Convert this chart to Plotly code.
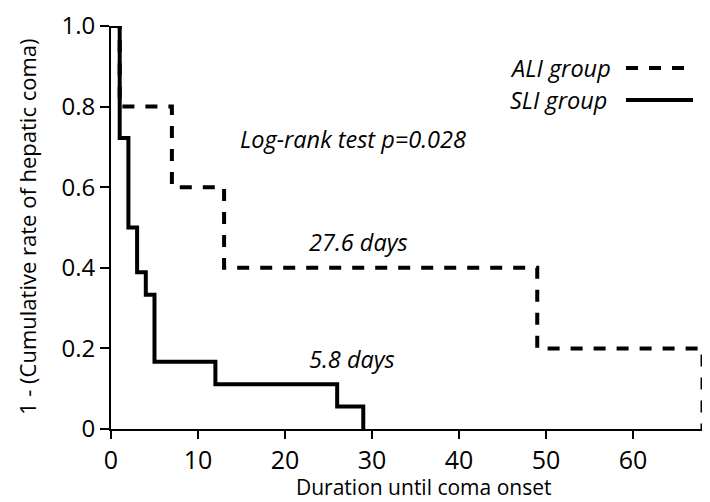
import plotly.graph_objects as go

# Data (Kaplan-Meier style step values)
sli_days = [0, 1, 2, 3, 4, 5, 12, 26, 29]
sli_surv = [1.0, 0.722, 0.5, 0.389, 0.333, 0.167, 0.111, 0.056, 0.0]
ali_days = [0, 1, 7, 13, 49, 68]
ali_surv = [1.0, 0.8, 0.6, 0.4, 0.2, 0.0]

x_ticks = [0, 10, 20, 30, 40, 50, 60]
y_ticks = [0, 0.2, 0.4, 0.6, 0.8, 1.0]
y_tick_labels = ["0", "0.2", "0.4", "0.6", "0.8", "1.0"]

FONT = "Open Sans"
W, H = 710, 502
L, R, T, B = 103, 12, 18, 81

fig = go.Figure()
fig.add_trace(go.Scatter(
    x=ali_days, y=ali_surv, mode="lines", line_shape="hv",
    line=dict(color="black", width=4, dash="12px,11px"),
    name="ALI group", showlegend=False, cliponaxis=False))
fig.add_trace(go.Scatter(
    x=sli_days, y=sli_surv, mode="lines", line_shape="hv",
    line=dict(color="black", width=4),
    name="SLI group", showlegend=False, cliponaxis=False))

def px_x(p):
    return (p - L) / (W - L - R)

def px_y(p):
    return 1 - (p - T) / (H - T - B)

annotations = [
    dict(text="<i>Log-rank test p=0.028</i>", x=px_x(230), y=px_y(131), xanchor="left", yanchor="middle", size=23.5, angle=0),
    dict(text="<i>27.6 days</i>", x=px_x(299), y=px_y(234), xanchor="left", yanchor="middle", size=23.5, angle=0),
    dict(text="<i>5.8 days</i>", x=px_x(299), y=px_y(351), xanchor="left", yanchor="middle", size=23.5, angle=0),
    dict(text="<i>ALI group</i>", x=px_x(500), y=px_y(60), xanchor="left", yanchor="middle", size=23.5, angle=0),
    dict(text="<i>SLI group</i>", x=px_x(500), y=px_y(92), xanchor="left", yanchor="middle", size=23.5, angle=0),
    dict(text="Duration until coma onset", x=px_x(415), y=px_y(479), xanchor="center", yanchor="middle", size=21, angle=0),
    dict(text="1 - (Cumulative rate of hepatic coma)", x=px_x(19), y=px_y(219), xanchor="center", yanchor="middle", size=22, angle=-90),
]
for a in annotations:
    fig.add_annotation(text=a["text"], x=a["x"], y=a["y"], xref="paper", yref="paper",
                       xanchor=a["xanchor"], yanchor=a["yanchor"], showarrow=False, textangle=a["angle"],
                       font=dict(family=FONT, size=a["size"], color="black"))

# legend sample lines
fig.add_shape(type="line", xref="paper", yref="paper", x0=px_x(618), x1=px_x(677), y0=px_y(60), y1=px_y(60),
              line=dict(color="black", width=4, dash="12px,11px"))
fig.add_shape(type="line", xref="paper", yref="paper", x0=px_x(618), x1=px_x(685), y0=px_y(92), y1=px_y(92),
              line=dict(color="black", width=4))

fig.update_layout(
    width=W, height=H,
    margin=dict(l=L, r=R, t=T, b=B, autoexpand=False),
    plot_bgcolor="white", paper_bgcolor="white",
    font=dict(family=FONT, color="black"),
    showlegend=False,
)
fig.update_xaxes(
    range=[0, 68.4], tickvals=x_ticks, ticks="outside", ticklen=8, tickwidth=2, tickcolor="black",
    showline=True, linecolor="black", linewidth=2, showgrid=False, zeroline=False, automargin=False,
    ticklabeloverflow="allow",
    tickfont=dict(family=FONT, size=25, color="black"),
)
fig.update_yaxes(
    range=[0, 1.0], tickvals=y_ticks, ticktext=y_tick_labels, ticks="outside", ticklen=9, tickwidth=2,
    tickcolor="black", showline=True, linecolor="black", linewidth=2, showgrid=False, zeroline=False,
    automargin=False, ticklabeloverflow="allow",
    tickfont=dict(family=FONT, size=24, color="black"),
)

fig.write_html("out.html")
